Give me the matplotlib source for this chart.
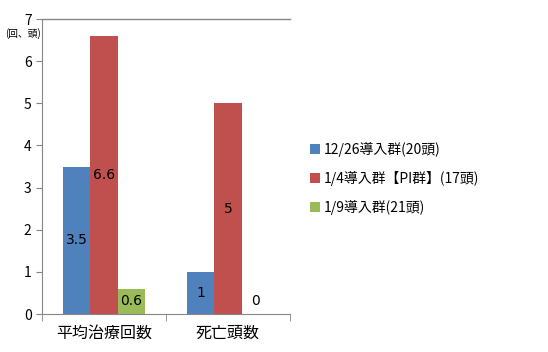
import matplotlib
matplotlib.use('Agg')
import matplotlib.pyplot as plt
import numpy as np

plt.rcParams['font.family'] = ['Noto Sans CJK JP', 'DejaVu Sans']

categories = ['平均治療回数', '死亡頭数']
series_names = ['12/26導入群(20頭)', '1/4導入群【PI群】(17頭)', '1/9導入群(21頭)']
series_values = [
    [3.5, 1],
    [6.6, 5],
    [0.6, 0],
]
colors = ['#4F81BD', '#C0504D', '#9BBB59']

fig = plt.figure(figsize=(5.48, 3.52), dpi=100)
ax = fig.add_axes([42 / 548, 38 / 352, 248 / 548, 295 / 352])

x = np.arange(len(categories))
width = 0.22
for i, (name, vals) in enumerate(zip(series_names, series_values)):
    pos = x + (i - 1) * width
    bars = ax.bar(pos, vals, width, color=colors[i], label=name)
    for xp, v in zip(pos, vals):
        y = v / 2 if v > 0 else 0.3
        ax.text(xp, y, f'{v:g}', ha='center', va='center', fontsize=10,
                family=['DejaVu Sans'])

ax.set_xlim(-0.5, 1.5)
ax.set_ylim(0, 7)
ax.set_yticks(range(0, 8))
ax.set_xticks(x)
ax.set_xticklabels(categories, fontsize=11.5)
ax.set_xticks([-0.5, 0.5, 1.5], minor=True)
ax.tick_params(axis='x', which='major', length=0, pad=8)
ax.tick_params(axis='x', which='minor', length=5, color='#868686')
ax.tick_params(axis='y', length=4, color='#868686', labelsize=10)

for side in ['left', 'bottom']:
    ax.spines[side].set_color('#868686')
ax.spines['right'].set_visible(False)
ax.spines['top'].set_visible(False)
ax.axhline(7, color='#868686', linewidth=1, clip_on=False)

fig.text(5 / 548, 1 - 34 / 352, '(回、頭)', fontsize=7, va='center', ha='left')

ax.legend(loc='center left', bbox_to_anchor=(1.03, 0.46), frameon=False,
          fontsize=10, handlelength=0.7, handleheight=0.7, handletextpad=0.3,
          labelspacing=1.0)

fig.savefig('out.png', dpi=100)
